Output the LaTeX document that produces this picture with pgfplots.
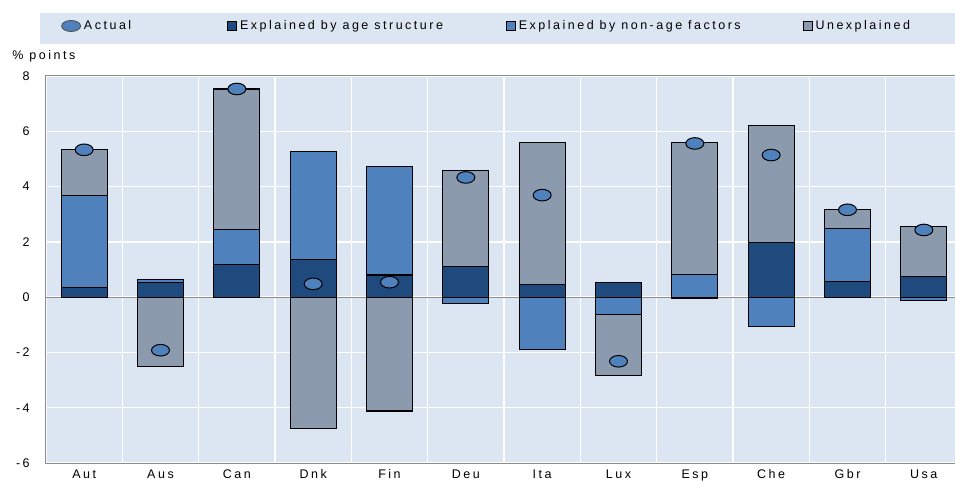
\documentclass[border=0pt]{standalone}
\usepackage{pgfplots}
\usepackage{pgfplotstable}
\pgfplotsset{compat=1.18}
\usepackage{fontspec}
\setmainfont{Liberation Sans}[LetterSpace=20]
\definecolor{bg}{HTML}{DCE6F2}
\definecolor{cage}{HTML}{1F4A7E}
\definecolor{cnon}{HTML}{4F81BD}
\definecolor{cun}{HTML}{8C9AAE}
\definecolor{axgray}{HTML}{8C8C8C}

\pgfplotstableread{
x agepos nonpos unpos ageneg nonneg unneg act
0 0.35 3.33 1.65 0 0 0 5.33
1 0.52 0.12 0 0 0 -2.50 -1.92
2 1.19 1.27 5.07 0 0 0 7.53
3 1.37 3.90 0 0 0 -4.74 0.48
4 0.80 3.93 0 0 0 -4.12 0.54
5 1.11 0 3.46 0 -0.23 0 4.33
6 0.46 0 5.15 0 -1.89 0 3.69
7 0.52 0 0 0 -0.62 -2.20 -2.32
8 0 0.83 4.78 -0.04 0 0 5.56
9 1.98 0 4.22 0 -1.05 0 5.14
10 0.55 1.94 0.69 0 0 0 3.16
11 0.76 0 1.81 0 -0.12 0 2.43
}\bars

\begin{document}
\fontsize{12.5bp}{14bp}\selectfont
\begin{tikzpicture}
\path[use as bounding box] (0,0) rectangle (955bp,482bp);
\fill[bg] (40bp,438bp) rectangle (955bp,469bp);
\begin{axis}[
  at={(46bp,19bp)}, anchor=south west,
  scale only axis, width=916bp, height=387bp,
  xmin=-0.5, xmax=11.5, ymin=-6, ymax=8,
  ybar stacked, bar width=0.6,
  axis background/.style={fill=bg},
  axis line style={axgray, line width=1bp},
  xtick={0,...,11},
  xticklabels={Aut,Aus,Can,Dnk,Fin,Deu,Ita,Lux,Esp,Che,Gbr,Usa},
  minor xtick={-0.5,0.5,...,11.5},
  xminorgrids, ymajorgrids,
  grid style={white, line width=1.3bp},
  minor grid style={white, line width=1.3bp},
  major tick length=0pt, minor tick length=0pt,
  ytick={-6,-4,-2,0,2,4,6,8},
  yticklabels={-6,-4,-2,0,2,4,6,8},
  extra y ticks={0}, extra y tick labels={},
  extra y tick style={grid style={axgray, line width=1bp}},
  yticklabel style={anchor=east, xshift=-12bp},
  xticklabel style={yshift=-2.5bp},
  ylabel={\%~points},
  every axis y label/.style={at={(axis description cs:0,1)}, anchor=base west, xshift=-38bp, yshift=16bp},
  legend columns=4,
  legend style={at={(axis description cs:0,1)}, anchor=west, xshift=15bp, yshift=50bp,
    draw=none, fill=none, inner sep=0pt,
    nodes={inner xsep=3bp},
    /tikz/column 2/.style={column sep=93bp},
    /tikz/column 4/.style={column sep=60bp},
    /tikz/column 6/.style={column sep=59bp}},
  legend cell align=left,
]
\addlegendimage{legend image code/.code={\draw[fill=cnon, draw=black!70, line width=0.8bp] (9bp,0bp) ellipse (9.5bp and 5.5bp);}}
\addplot[fill=cage, draw=black, line width=1.1bp,
  legend image code/.code={\draw[fill=cage, draw=black, line width=0.8bp] (0bp,-4.5bp) rectangle (9bp,4.5bp);}]
  table[x=x, y=agepos]{\bars};
\addplot[fill=cnon, draw=black, line width=1.1bp,
  legend image code/.code={\draw[fill=cnon, draw=black, line width=0.8bp] (0bp,-4.5bp) rectangle (9bp,4.5bp);}]
  table[x=x, y=nonpos]{\bars};
\addplot[fill=cun, draw=black, line width=1.1bp,
  legend image code/.code={\draw[fill=cun, draw=black, line width=0.8bp] (0bp,-4.5bp) rectangle (9bp,4.5bp);}]
  table[x=x, y=unpos]{\bars};
\addplot[fill=cage, draw=black, line width=1.1bp, forget plot] table[x=x, y=ageneg]{\bars};
\addplot[fill=cnon, draw=black, line width=1.1bp, forget plot] table[x=x, y=nonneg]{\bars};
\addplot[fill=cun, draw=black, line width=1.1bp, forget plot] table[x=x, y=unneg]{\bars};
\legend{Actual, Explained by age structure, Explained by non-age factors, Unexplained}
\end{axis}
\begin{axis}[
  at={(46bp,19bp)}, anchor=south west,
  scale only axis, width=916bp, height=387bp,
  xmin=-0.5, xmax=11.5, ymin=-6, ymax=8, hide axis, clip=false]
\addplot[only marks, mark=*, mark size=5.8bp,
  mark options={xscale=1.55, fill=cnon, draw=black, line width=1bp}]
  table[x=x, y=act]{\bars};
\end{axis}
\end{tikzpicture}
\end{document}
